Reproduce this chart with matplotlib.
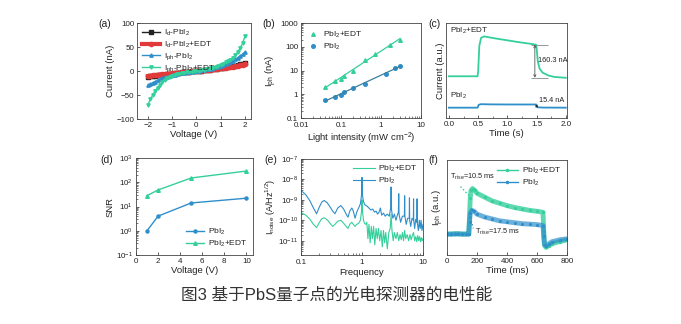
import numpy as np
import matplotlib
matplotlib.use("Agg")
import matplotlib.pyplot as plt
from matplotlib.lines import Line2D
from matplotlib.ticker import FormatStrFormatter, LogLocator, AutoMinorLocator, NullFormatter

plt.rcParams['font.family'] = ['Liberation Sans', 'Noto Sans CJK SC', 'DejaVu Sans']
plt.rcParams['mathtext.default'] = 'regular'
plt.rcParams['axes.linewidth'] = 0.6
plt.rcParams['axes.edgecolor'] = '#444444'
plt.rcParams['text.color'] = '#222222'
plt.rcParams['axes.labelcolor'] = '#222222'
plt.rcParams['xtick.color'] = '#444444'
plt.rcParams['ytick.color'] = '#444444'
plt.rcParams['xtick.labelcolor'] = '#222222'
plt.rcParams['ytick.labelcolor'] = '#222222'

GREEN = '#35cf9c'
BLUE = '#2f8fcb'
RED = '#e23a3a'
BLACK = '#222222'

# (a) I-V curves
voltage = [-2.0, -1.9, -1.8, -1.7, -1.6, -1.5, -1.4, -1.3, -1.2, -1.1, -1.0,
           -0.9, -0.8, -0.7, -0.6, -0.5, -0.4, -0.3, -0.2, -0.1, 0.0,
           0.1, 0.2, 0.3, 0.4, 0.5, 0.6, 0.7, 0.8, 0.9, 1.0,
           1.1, 1.2, 1.3, 1.4, 1.5, 1.6, 1.7, 1.8, 1.9, 2.0]
id_pbi2 = [-12.0, -11.3, -10.6, -9.9, -9.2, -8.6, -7.9, -7.3, -6.7, -6.1, -5.5,
           -4.9, -4.3, -3.7, -3.1, -2.5, -1.9, -1.4, -0.9, -0.4, 0.0,
           0.5, 1.0, 1.6, 2.2, 2.8, 3.4, 4.1, 4.8, 5.5, 6.2,
           7.0, 7.8, 8.6, 9.5, 10.4, 11.4, 12.4, 13.6, 15.0, 17.0]
id_edt = [-10.5, -9.9, -9.3, -8.7, -8.1, -7.6, -7.0, -6.5, -6.0, -5.4, -4.9,
          -4.4, -3.9, -3.4, -2.9, -2.4, -1.9, -1.4, -0.9, -0.4, 0.0,
          0.5, 1.0, 1.5, 2.0, 2.5, 3.0, 3.6, 4.2, 4.8, 5.4,
          6.1, 6.8, 7.5, 8.3, 9.1, 10.0, 10.9, 11.9, 13.0, 14.5]
iph_pbi2 = [-30.0, -27.0, -24.5, -22.0, -19.5, -17.5, -15.5, -13.5, -11.8, -10.2, -8.8,
            -7.5, -6.3, -5.2, -4.2, -3.3, -2.5, -1.8, -1.1, -0.5, 0.2,
            0.9, 1.6, 2.4, 3.2, 4.1, 5.1, 6.2, 7.5, 8.9, 10.5,
            12.2, 14.2, 16.4, 18.8, 21.4, 24.3, 27.5, 31.0, 34.8, 39.0]
iph_edt = [-70.0, -59.0, -49.5, -41.5, -34.5, -28.5, -23.5, -19.0, -15.5, -12.5, -10.2,
           -8.4, -6.9, -5.6, -4.5, -3.5, -2.6, -1.8, -1.1, -0.5, 0.2,
           0.9, 1.7, 2.5, 3.4, 4.4, 5.6, 7.0, 8.6, 10.5, 12.5,
           15.0, 17.8, 20.8, 23.8, 27.5, 33.0, 39.5, 47.5, 57.5, 72.0]

# (b) photocurrent vs light intensity
intensity_edt = [0.04, 0.07, 0.1, 0.12, 0.2, 0.4, 0.7, 1.7, 3.0]
iph_b_edt = [2.0, 3.5, 4.5, 6.0, 10.0, 28.0, 50.0, 120.0, 200.0]
intensity_pbi2 = [0.04, 0.07, 0.1, 0.12, 0.2, 0.4, 1.3, 2.2, 3.0]
iph_b_pbi2 = [0.6, 0.8, 0.95, 1.2, 1.8, 2.8, 7.0, 13.0, 16.0]

# (c) transient response (nA, offset)
t_c_edt = [0.0, 0.49, 0.5, 0.52, 0.55, 0.6, 0.7, 0.8, 1.0, 1.2, 1.4, 1.49,
           1.5, 1.52, 1.55, 1.6, 1.7, 1.8, 2.0]
cur_c_edt = [152, 152, 175, 300, 338, 345, 340, 335, 326, 317, 309, 305,
             290, 225, 190, 170, 156, 149, 144.7]
t_c_pbi2 = [0.0, 0.49, 0.51, 0.55, 0.7, 1.0, 1.49, 1.51, 1.6, 2.0]
cur_c_pbi2 = [0, 0, 14, 17, 16, 15.5, 15.4, 2, 0.5, 0]

# (d) SNR vs voltage
snr_voltage = [1, 2, 5, 10]
snr_pbi2 = [1.0, 4.0, 14.0, 22.0]
snr_edt = [28.0, 48.0, 150.0, 290.0]

# (e) noise spectra, log10(A/Hz^1/2)
freq_edt = [0.10, 0.12, 0.14, 0.16, 0.18, 0.20, 0.22, 0.24, 0.27, 0.30, 0.33, 0.36,
            0.40, 0.45, 0.50, 0.55, 0.59, 0.63, 0.68, 0.72, 0.77, 0.82, 0.88, 0.94,
            0.98, 1.00, 1.02, 1.06, 1.10, 1.15, 1.20, 1.25, 1.30, 1.36, 1.42, 1.48,
            1.55, 1.62, 1.70, 1.78, 1.86, 1.95, 2.05, 2.15, 2.25, 2.35, 2.45, 2.6,
            2.75, 2.9, 3.0, 3.1, 3.25, 3.4, 3.6, 3.8, 4.0, 4.2, 4.4, 4.6, 4.8, 5.0,
            5.2, 5.5, 5.8, 6.1, 6.4, 6.7, 7.0, 7.3, 7.6, 7.9, 8.2, 8.5, 8.8, 9.1,
            9.4, 9.7, 10.0]
noise_edt = [-9.62, -9.75, -9.95, -10.2, -10.36, -10.1, -9.92, -9.88, -9.98, -10.15, -10.3, -10.2,
             -10.05, -10.0, -10.15, -10.3, -10.4, -10.2, -10.1, -10.2, -10.3, -10.2, -10.15, -10.0,
             -9.6, -9.0, -9.6, -10.0, -10.15, -10.2, -10.1, -10.9, -10.2, -11.1, -10.3, -10.9,
             -10.3, -11.2, -10.4, -10.9, -10.4, -11.0, -10.5, -11.3, -10.5, -11.1, -10.6, -11.4,
             -10.6, -10.4, -9.7, -10.5, -11.0, -10.6, -10.9, -10.6, -11.0, -10.7, -10.95, -10.6, -11.0, -10.5,
             -10.9, -10.7, -11.0, -10.7, -10.95, -10.75, -10.6, -11.0, -10.8, -11.05, -10.75, -11.0, -10.8, -11.05,
             -10.85, -11.0, -10.9]
freq_pbi2 = [0.10, 0.12, 0.14, 0.16, 0.18, 0.20, 0.22, 0.24, 0.27, 0.30, 0.33, 0.36,
             0.40, 0.45, 0.50, 0.55, 0.59, 0.63, 0.68, 0.72, 0.77, 0.82, 0.88, 0.94,
             0.98, 1.00, 1.02, 1.06, 1.12, 1.2, 1.3, 1.4, 1.5, 1.6, 1.7, 1.8, 1.9, 2.0,
             2.1, 2.25, 2.4, 2.6, 2.8, 2.95, 3.0, 3.05, 3.2, 3.4, 3.6, 3.8, 3.95, 4.0,
             4.05, 4.3, 4.6, 4.95, 5.0, 5.05, 5.3, 5.6, 5.95, 6.0, 6.05, 6.3, 6.6, 6.95,
             7.0, 7.05, 7.3, 7.6, 7.95, 8.0, 8.05, 8.4, 8.7, 9.0, 9.3, 9.6, 10.0]
noise_pbi2 = [-8.54, -8.75, -9.05, -9.4, -9.68, -9.35, -9.1, -9.03, -9.15, -9.35, -9.55, -9.68,
              -9.4, -9.28, -9.45, -9.7, -9.85, -9.55, -9.4, -9.55, -9.9, -9.6, -9.4, -9.2,
              -8.8, -7.9, -8.8, -9.1, -9.25, -9.3, -9.4, -9.5, -9.45, -9.6, -9.55, -9.7, -9.6, -9.4,
              -9.75, -9.65, -9.8, -9.7, -9.8, -9.4, -8.37, -9.5, -9.9, -9.7, -10.0, -9.75, -9.6, -8.7,
              -9.7, -10.1, -9.8, -9.8, -8.8, -9.8, -10.2, -9.9, -9.9, -8.9, -10.0, -10.3, -9.9, -10.0,
              -8.95, -10.0, -10.4, -9.95, -10.1, -8.95, -10.1, -10.5, -10.0, -10.4, -10.0, -10.5, -10.2]

# (f) rise/fall response (a.u.)
t_f_edt = [0, 25, 50, 75, 100, 125, 145, 150, 155, 160, 170, 185, 200, 250, 300, 350,
           400, 450, 500, 550, 600, 640, 645, 650, 660, 680, 700, 750, 800]
iph_f_edt = [22, 22, 22.5, 22, 22, 22, 22, 40, 60, 68, 70, 68, 65, 61, 57, 54.5,
             52, 50, 48.5, 47, 46, 45, 25, 10, 8, 10, 12, 14, 16]
t_f_pbi2 = [0, 25, 50, 75, 100, 125, 145, 150, 155, 165, 180, 200, 250, 300, 350,
            400, 450, 500, 550, 600, 640, 645, 650, 660, 680, 700, 750, 800]
iph_f_pbi2 = [22, 22, 22, 22.5, 22, 22, 22, 35, 44, 47, 46, 43, 40, 38, 36,
              35, 34, 33, 32.5, 32, 31, 20, 11, 10, 12, 14, 16, 17]

W, H = 681, 324
fig = plt.figure(figsize=(W / 100, H / 100), dpi=100)


def box(x0, y0, x1, y1):
    return fig.add_axes([x0 / W, 1 - y1 / H, (x1 - x0) / W, (y1 - y0) / H])


def style(ax):
    ax.tick_params(direction='in', labelsize=5.8, length=2.5, width=0.6, pad=2)
    ax.tick_params(which='minor', direction='in', length=1.5, width=0.5)


def panel_label(x, y, s):
    fig.text(x / W, 1 - y / H, s, fontsize=7.5, va='center', ha='left')


lab = dict(fontsize=6.8, labelpad=1)

# ---- (a)
ax = box(137, 23, 251, 119)
style(ax)
ax.plot(voltage, id_pbi2, '-s', color=BLACK, lw=1, ms=2.2, label='I$_d$-PbI$_2$')
ax.plot(voltage, id_edt, '-o', color=RED, lw=3, ms=3, label='I$_d$-PbI$_2$+EDT')
ax.plot(voltage, iph_pbi2, '-^', color=BLUE, lw=1, ms=2.4, label='I$_{ph}$-PbI$_2$')
ax.plot(voltage, iph_edt, '-v', color=GREEN, lw=1, ms=2.4, label='I$_{ph}$-PbI$_2$+EDT')
ax.set_xlim(-2.45, 2.25)
ax.set_ylim(-100, 100)
ax.set_xticks([-2, -1, 0, 1, 2])
ax.set_yticks([-100, -50, 0, 50, 100])
ax.set_xlabel('Voltage (V)', **lab)
ax.set_ylabel('Current (nA)', **lab)
ax.legend(loc='upper left', fontsize=6, frameon=False, handlelength=2.2,
          handletextpad=0.4, labelspacing=0.15, borderaxespad=0.2)
panel_label(98, 24, '(a)')

# ---- (b)
ax = box(301, 23, 421, 118)
style(ax)
ax.tick_params(axis='x', pad=3)
ax.set_xscale('log')
ax.set_yscale('log')
for xs, ys, c, m, lc, name in [(intensity_edt, iph_b_edt, GREEN, '^', GREEN, 'PbI$_2$+EDT'),
                               (intensity_pbi2, iph_b_pbi2, BLUE, 'o', '#3b7f9c', 'PbI$_2$')]:
    ax.plot(xs, ys, m, color=c, ms=2.6, label=name)
    k, b0 = np.polyfit(np.log10(xs), np.log10(ys), 1)
    xf = np.array([min(xs), max(xs)])
    ax.plot(xf, 10 ** (k * np.log10(xf) + b0), '-', color=lc, lw=0.9)
ax.set_xlim(0.01, 10)
ax.set_ylim(0.1, 1000)
ax.xaxis.set_major_formatter(FormatStrFormatter('%g'))
ax.yaxis.set_major_formatter(FormatStrFormatter('%g'))
ax.xaxis.set_minor_formatter(NullFormatter())
ax.yaxis.set_minor_formatter(NullFormatter())
ax.set_xlabel('Light intensity (mW cm$^{-2}$)', **lab)
ax.set_ylabel('I$_{ph}$ (nA)', **lab)
ax.legend(loc='upper left', fontsize=6, frameon=False, handlelength=1.2,
          handletextpad=0.6, labelspacing=0.2, borderaxespad=0.4)
panel_label(262, 24, '(b)')

# ---- (c)
ax = box(446, 23, 567, 118)
style(ax)
ax.plot(t_c_edt, cur_c_edt, '-', color=GREEN, lw=1.3)
ax.plot(t_c_pbi2, cur_c_pbi2, '-', color=BLUE, lw=1.3)
ax.set_xlim(-0.05, 2.02)
ax.set_ylim(-50, 410)
ax.set_yticks([])
ax.set_xticks([0, 0.5, 1.0, 1.5, 2.0])
ax.xaxis.set_major_formatter(FormatStrFormatter('%.1f'))
ax.xaxis.set_minor_locator(AutoMinorLocator(2))
ax.set_xlabel('Time (s)', **lab)
ax.set_ylabel('Current (a.u.)', **lab)
top, bottom = cur_c_edt[11], cur_c_edt[-1]
ax.hlines([top, bottom], 1.41, 1.69, color='#888888', lw=0.6)
ax.annotate('', xy=(1.47, top), xytext=(1.47, bottom),
            arrowprops=dict(arrowstyle='<->', color='#555555', lw=0.6,
                            shrinkA=0, shrinkB=0, mutation_scale=4))
ax.text(1.52, 226, '%.1f nA' % (top - bottom), fontsize=5.3, va='center', ha='left')
ax.annotate('', xy=(1.5, 15.4), xytext=(1.5, 0),
            arrowprops=dict(arrowstyle='<->', color='#222222', lw=0.6,
                            shrinkA=0, shrinkB=0, mutation_scale=3))
ax.text(1.54, 34, '15.4 nA', fontsize=5.3, va='center', ha='left')
ax.text(0.02, 373, 'PbI$_2$+EDT', fontsize=5.8, va='center', ha='left')
ax.text(0.02, 58, 'PbI$_2$', fontsize=5.8, va='center', ha='left')
panel_label(428, 24, '(c)')

# ---- (d)
ax = box(136, 158, 253, 255)
style(ax)
ax.set_yscale('log')
ax.plot(snr_voltage, snr_pbi2, '-o', color=BLUE, lw=1, ms=2.2, label='PbI$_2$')
ax.plot(snr_voltage, snr_edt, '-^', color=GREEN, lw=1, ms=2.6, label='PbI$_2$+EDT')
ax.set_xlim(0, 10.6)
ax.set_ylim(0.1, 1000)
ax.set_xticks([0, 2, 4, 6, 8, 10])
ax.yaxis.set_major_locator(LogLocator(base=10, numticks=10))
ax.yaxis.set_minor_formatter(NullFormatter())
ax.set_xlabel('Voltage (V)', **lab)
ax.set_ylabel('SNR', **lab)
ax.legend(loc='lower right', fontsize=6, frameon=False, handlelength=2.2,
          handletextpad=0.4, labelspacing=0.2, borderaxespad=0.3)
panel_label(100, 160, '(d)')

# ---- (e)
ax = box(301, 159, 423, 255)
style(ax)
ax.tick_params(axis='x', pad=3)
ax.set_xscale('log')
ax.set_yscale('log')
ax.plot(freq_edt, 10 ** np.array(noise_edt), '-', color=GREEN, lw=0.8, label='PbI$_2$+EDT')
ax.plot(freq_pbi2, 10 ** np.array(noise_pbi2), '-', color=BLUE, lw=0.8, label='PbI$_2$')
ax.set_xlim(0.1, 10)
ax.set_ylim(10 ** -11.7, 10 ** -7)
ax.xaxis.set_major_formatter(FormatStrFormatter('%g'))
ax.xaxis.set_minor_formatter(NullFormatter())
ax.yaxis.set_major_locator(LogLocator(base=10, numticks=10))
ax.yaxis.set_minor_formatter(NullFormatter())
ax.set_xlabel('Frequency', **lab)
ax.set_ylabel('I$_{noise}$ (A/Hz$^{1/2}$)', fontsize=6.5, labelpad=0)
ax.legend(loc='upper right', fontsize=6, frameon=False, handlelength=2.6,
          handletextpad=0.4, labelspacing=0.2, borderaxespad=0.2)
panel_label(264, 160, '(e)')

# ---- (f)
ax = box(447, 160, 567, 255)
style(ax)
ax.plot(t_f_edt, iph_f_edt, '-', color=GREEN, lw=3.5, alpha=0.8)
ax.plot(t_f_edt, iph_f_edt, '.', color=GREEN, ms=2.5)
ax.plot(t_f_pbi2, iph_f_pbi2, '-', color=BLUE, lw=3.5, alpha=0.7)
ax.plot(t_f_pbi2, iph_f_pbi2, '.', color=BLUE, ms=2.5)
ax.set_xlim(0, 800)
ax.set_ylim(0, 100)
ax.set_xticks([0, 200, 400, 600, 800])
ax.set_yticks([])
ax.set_xlabel('Time (ms)', **lab)
ax.set_ylabel('I$_{ph}$ (a.u.)', **lab)
ax.plot([90, 150], [72, 62], ':', color=GREEN, lw=1)
ax.plot([155, 175], [40, 28], ':', color=BLUE, lw=1)
ax.text(22, 82, 'T$_{rise}$=10.5 ms', fontsize=5.3, va='center', ha='left')
ax.text(185, 24, 'T$_{rise}$=17.5 ms', fontsize=5.3, va='center', ha='left')
handles = [Line2D([], [], color=GREEN, marker='.', ms=3, lw=1),
           Line2D([], [], color=BLUE, marker='.', ms=3, lw=1)]
ax.legend(handles, ['PbI$_2$+EDT', 'PbI$_2$'], loc='upper right', fontsize=6,
          frameon=False, handlelength=2.6, handletextpad=0.4, labelspacing=0.2,
          borderaxespad=0.3)
panel_label(428, 160, '(f)')

# caption
fig.text(337 / W, 1 - 295 / H, '图3 基于PbS量子点的光电探测器的电性能', fontsize=12,
         ha='center', va='center', color='#333333')

fig.savefig('out.png', dpi=100, facecolor='white')
